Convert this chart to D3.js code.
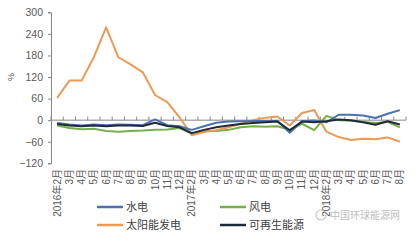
<!DOCTYPE html>
<html>
<head>
<meta charset="utf-8">
<script src="https://cdn.jsdelivr.net/npm/d3@7"></script>
<style>
  body { margin: 0; background: #fff; }
  text { font-family: "Liberation Sans", "Noto Sans CJK SC", sans-serif; }
</style>
</head>
<body>
<svg width="420" height="240"></svg>
<script>
var months = ["2016年2月","3月","4月","5月","6月","7月","8月","9月","10月","11月","12月",
              "2017年2月","3月","4月","5月","6月","7月","8月","9月","10月","11月","12月",
              "2018年2月","3月","4月","5月","6月","7月","8月"];

var hydro = [-8,-12,-15,-12,-14,-12,-13,-14,2,-14,-17,-27,-17,-7,-4,-3,-2,-2,-2,-35,-3,-1,-6,15,15,13,6,18,28];
var wind  = [-15,-22,-25,-24,-30,-32,-30,-29,-27,-26,-22,-37,-30,-30,-27,-20,-17,-18,-17,-27,-10,-28,12,0,-2,-5,-8,-5,-20];
var solar = [62,110,110,175,258,175,155,133,70,50,8,-42,-33,-28,-20,-10,0,7,10,-15,20,28,-32,-47,-55,-52,-53,-48,-60];
var renew = [-11,-15,-17,-15,-17,-15,-15,-16,-7,-16,-20,-36,-27,-20,-15,-11,-8,-6,-4,-28,-4,-6,-3,2,0,-6,-13,-3,-12];

var yTicks = [-120,-60,0,60,120,180,240,300];

var series = [
  {name: "水电", values: hydro, color: "#4a72b2"},
  {name: "风电", values: wind, color: "#78ae48"},
  {name: "太阳能发电", values: solar, color: "#eb9a55"},
  {name: "可再生能源", values: renew, color: "#1f2b3a"}
];

var svg = d3.select("svg");

var x = d3.scaleBand()
    .domain(d3.range(months.length))
    .range([51, 406]);

var y = d3.scaleLinear()
    .domain([-120, 300])
    .range([163.3, 12.3]);

// y axis
var yAxis = svg.append("g")
    .attr("transform", "translate(51,0)")
    .call(d3.axisLeft(y).tickValues(yTicks).tickSize(3).tickPadding(5));
yAxis.select(".domain").attr("stroke", "#868686");
yAxis.selectAll(".tick line").attr("stroke", "#868686");
yAxis.selectAll(".tick text")
    .attr("fill", "#595959")
    .style("font-size", "10.5px");

svg.append("text")
    .attr("transform", "translate(14,77) rotate(-90)")
    .attr("text-anchor", "middle")
    .attr("fill", "#595959")
    .style("font-size", "9px")
    .text("%");

// x axis at zero, ticks between categories pointing up
var x0 = y(0);
svg.append("line")
    .attr("x1", 51).attr("x2", 406)
    .attr("y1", x0).attr("y2", x0)
    .attr("stroke", "#868686");

svg.append("g").selectAll("line")
    .data(d3.range(months.length + 1))
    .enter().append("line")
      .attr("x1", function(d) { return 51 + d * x.bandwidth(); })
      .attr("x2", function(d) { return 51 + d * x.bandwidth(); })
      .attr("y1", x0).attr("y2", x0 - 3.5)
      .attr("stroke", "#868686");

svg.append("g").selectAll("text")
    .data(months)
    .enter().append("text")
      .attr("transform", function(d, i) {
        return "translate(" + (x(i) + x.bandwidth() / 2 + 3.5) + ",169) rotate(-90)";
      })
      .attr("text-anchor", "end")
      .attr("fill", "#595959")
      .style("font-size", "10px")
      .text(function(d) { return d; });

// lines
var line = d3.line()
    .x(function(d, i) { return x(i) + x.bandwidth() / 2; })
    .y(function(d) { return y(d); });

svg.append("g").selectAll("path")
    .data([series[1], series[2], series[0], series[3]])
    .enter().append("path")
      .attr("d", function(d) { return line(d.values); })
      .attr("fill", "none")
      .attr("stroke", function(d) { return d.color; })
      .attr("stroke-width", 2)
      .attr("stroke-linejoin", "round");

// legend
var legendPos = [[97, 207], [220, 207], [97, 225], [220, 225]];
var legendOrder = [series[0], series[1], series[2], series[3]];
var lg = svg.append("g").selectAll("g")
    .data(legendOrder)
    .enter().append("g")
      .attr("transform", function(d, i) { return "translate(" + legendPos[i] + ")"; });
lg.append("line")
    .attr("x1", 0).attr("x2", 26)
    .attr("stroke", function(d) { return d.color; })
    .attr("stroke-width", 2.5);
lg.append("text")
    .attr("x", 29).attr("dy", "0.36em")
    .attr("fill", "#404040")
    .style("font-size", "11px")
    .text(function(d) { return d.name; });

// watermark
var wm = svg.append("g").attr("opacity", 0.55);
wm.append("circle").attr("cx", 321).attr("cy", 215).attr("r", 5)
    .attr("fill", "none").attr("stroke", "#999").attr("stroke-width", 1.2);
wm.append("text")
    .attr("x", 330).attr("y", 219)
    .attr("fill", "#888")
    .style("font-size", "10px")
    .text("中国环球能源网");
</script>
</body>
</html>
